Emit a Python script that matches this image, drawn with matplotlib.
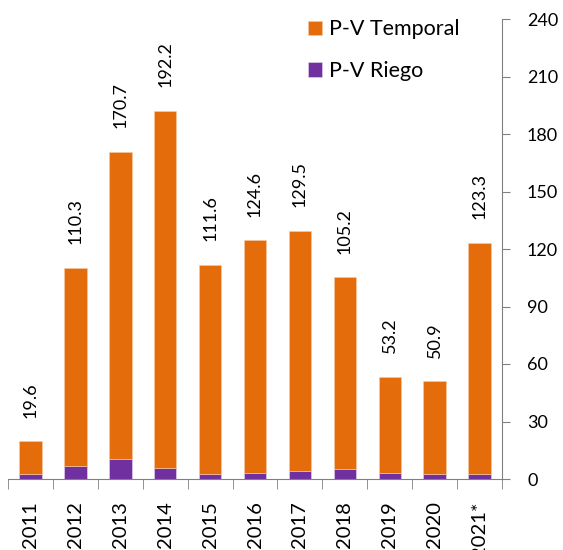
import numpy as np
import matplotlib
matplotlib.use("Agg")
import matplotlib.pyplot as plt

years = ["2011", "2012", "2013", "2014", "2015", "2016", "2017", "2018", "2019", "2020", "2021*"]
totals = [19.6, 110.3, 170.7, 192.2, 111.6, 124.6, 129.5, 105.2, 53.2, 50.9, 123.3]
riego = [2.4, 7.0, 10.2, 5.5, 2.6, 3.3, 4.2, 5.4, 3.1, 2.4, 2.6]
temporal = [round(t - r, 1) for t, r in zip(totals, riego)]
yticks = [0, 30, 60, 90, 120, 150, 180, 210, 240]

c_temp = "#E46C0A"
c_riego = "#7030A0"
grey = "#808080"

plt.rcParams["font.family"] = ["Lato", "DejaVu Sans"]

fig = plt.figure(figsize=(5.63, 5.5), dpi=100)
ax = fig.add_axes([8 / 563, 71 / 550, 494 / 563, 460 / 550])

x = np.arange(len(years))
ax.bar(x, riego, width=0.5, color=c_riego, edgecolor="#e8d5f0", linewidth=0.4, label="P-V Riego")
ax.bar(x, temporal, width=0.5, bottom=riego, color=c_temp, edgecolor="#f7c9a6", linewidth=0.4,
       label="P-V Temporal")

for xi, t in zip(x, totals):
    ax.annotate(f"{t:.1f}", (xi, t), xytext=(0, 17), textcoords="offset points",
                rotation=90, ha="center", va="bottom", fontsize=13)

ax.set_xlim(-0.5, len(years) - 0.5)
ax.set_ylim(0, 240)
ax.yaxis.tick_right()
ax.set_yticks(yticks)
ax.tick_params(axis="y", direction="out", length=6, color=grey, pad=12, labelsize=13)

ax.set_xticks(x)
ax.set_xticklabels(years, rotation=90, fontsize=14.5)
ax.set_xticks(np.arange(-0.5, len(years)), minor=True)
ax.tick_params(axis="x", which="major", length=0, pad=16)
ax.tick_params(axis="x", which="minor", length=7, color=grey)

for s in ["top", "left"]:
    ax.spines[s].set_visible(False)
ax.spines["right"].set_color(grey)
ax.spines["bottom"].set_color(grey)

handles, labels = ax.get_legend_handles_labels()
ax.legend(handles[::-1], labels[::-1], loc="upper left", bbox_to_anchor=(289 / 563, 1.0),
          bbox_transform=fig.transFigure, frameon=False, fontsize=15.5,
          handlelength=0.65, handleheight=0.65, handletextpad=0.3, labelspacing=1.0)

fig.savefig("out.png", dpi=100)
